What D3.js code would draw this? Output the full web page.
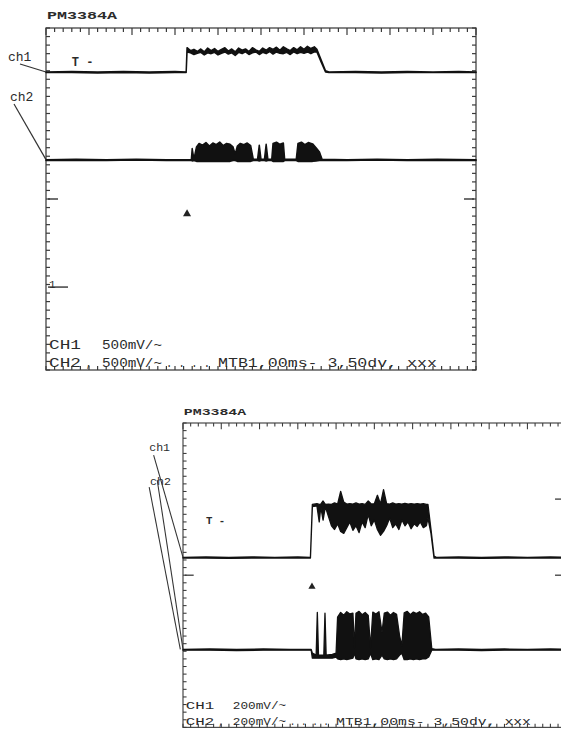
<!DOCTYPE html>
<html lang="en">
<head>
<meta charset="UTF-8">
<title>PM3384A traces</title>
<script src="https://d3js.org/d3.v7.min.js"></script>
<style>
  html, body { margin: 0; padding: 0; background: #fff; overflow: hidden; }
  svg { display: block; }
  text { font-family: "Liberation Mono", "DejaVu Sans Mono", monospace; fill: #2b2b2b; }
</style>
</head>
<body>
<svg id="scope" width="561" height="729"></svg>
<script>
// values are in screen divisions: 10 across, 8 up, 0 = centre line
// each trace point is [time, upper, lower] so noisy bursts can be filled

// top screenshot (500mV/div)
const topCh1 = [
  [0.00,2.97,2.96],[0.60,2.98,2.96],[1.20,2.97,2.95],[1.80,2.98,2.96],[2.40,2.97,2.95],[3.00,2.98,2.96],[3.26,2.97,2.96],
  [3.28,3.54,3.44],[3.36,3.47,3.42],[3.44,3.50,3.38],[3.52,3.45,3.41],[3.60,3.51,3.43],[3.68,3.44,3.37],[3.76,3.53,3.42],
  [3.84,3.47,3.40],[3.92,3.52,3.43],[4.00,3.45,3.37],[4.08,3.50,3.41],[4.16,3.54,3.44],[4.24,3.46,3.39],[4.32,3.51,3.42],
  [4.40,3.44,3.36],[4.48,3.53,3.43],[4.56,3.48,3.40],[4.64,3.51,3.44],[4.72,3.45,3.38],[4.80,3.54,3.42],[4.88,3.49,3.44],
  [4.96,3.45,3.38],[5.04,3.53,3.43],[5.12,3.48,3.40],[5.20,3.54,3.45],[5.28,3.50,3.39],[5.36,3.55,3.44],[5.44,3.48,3.41],
  [5.52,3.56,3.40],[5.60,3.51,3.43],[5.68,3.47,3.38],[5.76,3.54,3.44],[5.84,3.49,3.40],[5.92,3.56,3.43],[6.00,3.50,3.41],
  [6.08,3.57,3.44],[6.16,3.52,3.40],[6.24,3.56,3.44],[6.30,3.50,3.44],
  [6.40,3.25,3.20],[6.50,3.00,2.97],[6.58,2.97,2.96],[7.20,2.98,2.96],[7.80,2.97,2.95],[8.40,2.98,2.96],[9.00,2.97,2.96],
  [9.60,2.98,2.96],[10.00,2.97,2.96]
];
const topCh2 = [
  [0.00,0.92,0.90],[0.70,0.93,0.90],[1.40,0.92,0.90],[2.10,0.93,0.91],[2.80,0.92,0.90],[3.38,0.92,0.90],
  [3.40,1.18,0.89],[3.44,0.93,0.90],[3.50,1.22,0.88],[3.56,1.30,0.88],[3.64,1.26,0.88],[3.72,1.32,0.88],[3.80,1.24,0.88],
  [3.88,1.31,0.88],[3.96,1.27,0.88],[4.04,1.33,0.88],[4.12,1.25,0.88],[4.20,1.30,0.88],[4.28,1.28,0.88],[4.35,1.22,0.90],
  [4.40,1.05,0.90],[4.45,1.24,0.88],[4.52,1.30,0.88],[4.60,1.27,0.88],[4.68,1.31,0.88],[4.76,1.25,0.88],[4.82,0.93,0.90],
  [4.92,0.93,0.90],[4.96,1.26,0.89],[5.00,0.93,0.90],[5.08,0.93,0.90],[5.12,1.28,0.89],[5.16,0.93,0.90],[5.25,0.93,0.90],
  [5.28,1.30,0.88],[5.36,1.33,0.88],[5.44,1.28,0.88],[5.52,1.31,0.88],[5.55,0.93,0.90],[5.82,0.93,0.90],[5.86,1.30,0.88],
  [5.94,1.33,0.88],[6.02,1.27,0.88],[6.10,1.32,0.88],[6.20,1.29,0.88],[6.28,1.20,0.89],[6.36,1.10,0.90],[6.42,0.93,0.90],
  [7.00,0.92,0.90],[7.70,0.93,0.91],[8.40,0.92,0.90],[9.10,0.93,0.90],[10.00,0.92,0.90]
];

// bottom screenshot (200mV/div)
const botCh1 = [
  [0.00,0.47,0.45],[0.60,0.48,0.45],[1.20,0.47,0.44],[1.80,0.48,0.45],[2.40,0.47,0.45],[3.00,0.48,0.45],[3.33,0.47,0.45],
  [3.38,1.86,1.80],[3.50,1.88,1.82],[3.56,1.86,1.40],[3.60,1.87,1.80],[3.66,1.95,1.45],[3.72,1.86,1.80],[3.80,1.87,1.55],
  [3.88,1.86,1.30],[3.96,1.90,1.20],[4.04,1.87,1.35],[4.12,2.20,1.15],[4.20,1.92,1.10],[4.28,1.87,1.25],[4.36,1.88,1.40],
  [4.44,1.87,1.18],[4.52,1.90,1.30],[4.60,1.87,1.12],[4.68,1.88,1.40],[4.76,1.86,1.25],[4.84,1.95,1.60],[4.92,1.87,1.30],
  [5.00,1.88,1.45],[5.08,2.10,1.20],[5.16,1.87,1.05],[5.24,2.25,1.15],[5.32,1.88,1.30],[5.40,1.87,1.50],[5.48,1.90,1.25],
  [5.56,1.87,1.35],[5.64,1.88,1.20],[5.72,1.87,1.45],[5.80,1.89,1.30],[5.88,1.87,1.40],[5.96,1.88,1.22],[6.04,1.87,1.35],
  [6.12,1.88,1.28],[6.20,1.87,1.40],[6.28,1.88,1.25],[6.36,1.86,1.30],[6.40,1.86,1.50],
  [6.48,1.20,1.10],[6.56,0.50,0.45],[6.62,0.47,0.45],[7.20,0.48,0.45],[7.80,0.47,0.44],[8.40,0.48,0.45],[9.00,0.47,0.45],
  [9.60,0.48,0.45],[10.00,0.47,0.45]
];
const botCh2 = [
  [0.00,-1.95,-1.97],[0.70,-1.94,-1.97],[1.40,-1.95,-1.98],[2.10,-1.94,-1.97],[2.80,-1.95,-1.97],[3.35,-1.95,-1.97],
  [3.38,-2.05,-2.18],[3.48,-2.10,-2.18],[3.51,-0.98,-2.18],[3.54,-2.10,-2.18],[3.68,-2.10,-2.18],[3.71,-1.00,-2.18],
  [3.74,-2.10,-2.18],[3.90,-2.08,-2.18],[4.00,-2.05,-2.15],
  [4.04,-1.10,-2.20],[4.12,-0.98,-2.22],[4.20,-1.05,-2.20],[4.28,-0.96,-2.22],[4.36,-1.02,-2.20],[4.44,-1.00,-2.18],
  [4.48,-1.90,-2.05],[4.52,-1.00,-2.20],[4.60,-0.95,-2.22],[4.68,-1.04,-2.20],[4.76,-0.98,-2.22],[4.84,-1.06,-2.20],
  [4.90,-1.90,-2.05],[4.96,-0.97,-2.22],[5.04,-1.02,-2.20],[5.12,-0.96,-2.22],[5.20,-1.50,-2.10],[5.26,-1.00,-2.20],
  [5.34,-0.97,-2.22],[5.42,-1.05,-2.20],[5.50,-0.98,-2.22],[5.58,-1.03,-2.20],[5.66,-1.60,-2.10],[5.72,-1.85,-2.05],
  [5.78,-0.99,-2.22],[5.86,-0.95,-2.22],[5.94,-1.04,-2.20],[6.02,-0.97,-2.22],[6.10,-1.01,-2.20],[6.18,-0.96,-2.22],
  [6.26,-1.03,-2.20],[6.34,-1.00,-2.20],[6.42,-1.10,-2.15],
  [6.50,-1.93,-1.97],[6.60,-1.95,-1.97],[7.20,-1.94,-1.97],[7.80,-1.95,-1.98],[8.40,-1.94,-1.97],[9.00,-1.95,-1.97],
  [9.60,-1.94,-1.97],[10.00,-1.95,-1.97]
];

// readouts and markers, [top, bottom]
const titles = ["PM3384A", "PM3384A"];
const voltsPerDiv = ["500mV/~", "200mV/~"];
const timebase = "MTB1,00ms- 3,50dv, xxx";
const trigLevel = [3.2, 1.45];        // "T -" marker
const trigTime = [3.28, 3.37];        // small triangle
const trigMarkY = [-0.35, -0.3];
const leftMarks = [[0, -2.06], [0]];  // ground dashes on left edge
const rightMarks = [[0], [2, 0]];

const svg = d3.select("#scope");
const W = 430, H = 342;

function drawPanel(i, ox, oy, k, ch1, ch2, lab) {
    const g = svg.append("g").attr("transform", `translate(${ox},${oy}) scale(${k})`);
    const x = d3.scaleLinear().domain([0, 10]).range([0, W]);
    const y = d3.scaleLinear().domain([4, -4]).range([0, H]);

    // frame
    g.append("rect").attr("width", W).attr("height", H)
        .attr("fill", "none").attr("stroke", "#444").attr("stroke-width", 1.3);

    // graticule ticks along the edges, 5 per division, longer on whole divisions
    const tx = x.ticks(50), ty = y.ticks(40);
    const tl = d => (Math.abs(d - Math.round(d)) < 1e-6 ? 7 : 4);
    const ticks = g.append("g").attr("stroke", "#3a3a3a").attr("stroke-width", 1.2);
    ticks.selectAll(".tt").data(tx).join("line").attr("class", "tt")
        .attr("x1", d => x(d)).attr("x2", d => x(d)).attr("y1", 0).attr("y2", d => tl(d));
    ticks.selectAll(".tb").data(tx).join("line").attr("class", "tb")
        .attr("x1", d => x(d)).attr("x2", d => x(d)).attr("y1", H).attr("y2", H - 4);
    ticks.selectAll(".tlft").data(ty).join("line").attr("class", "tlft")
        .attr("y1", d => y(d)).attr("y2", d => y(d)).attr("x1", 0).attr("x2", 4);
    ticks.selectAll(".trgt").data(ty).join("line").attr("class", "trgt")
        .attr("y1", d => y(d)).attr("y2", d => y(d)).attr("x1", W).attr("x2", W - 4);

    // traces
    const area = d3.area().x(d => x(d[0])).y0(d => y(d[2])).y1(d => y(d[1]));
    [ch1, ch2].forEach(tr => {
        g.append("path").datum(tr).attr("d", area)
            .attr("fill", "#111").attr("stroke", "#111")
            .attr("stroke-width", 1.5).attr("stroke-linejoin", "round");
    });

    // trigger markers
    g.append("text").attr("x", x(0.6)).attr("y", y(trigLevel[i]) + 4)
        .attr("font-size", 12).attr("font-weight", "bold").text("T -");
    g.append("path").attr("d", d3.symbol(d3.symbolTriangle, 28)())
        .attr("transform", `translate(${x(trigTime[i])},${y(trigMarkY[i])})`).attr("fill", "#222");

    leftMarks[i].forEach((v, j) => {
        g.append("line").attr("x1", 2).attr("x2", j ? 22 : 12).attr("y1", y(v)).attr("y2", y(v))
            .attr("stroke", "#333").attr("stroke-width", 1.4);
        if (j) g.append("text").attr("x", 3).attr("y", y(v) + 1).attr("font-size", 11).text("1");
    });
    rightMarks[i].forEach(v => {
        g.append("line").attr("x1", W - 12).attr("x2", W - 2).attr("y1", y(v)).attr("y2", y(v))
            .attr("stroke", "#333").attr("stroke-width", 1.4);
    });

    // channel labels with leader lines to each trace start
    g.append("text").attr("x", lab.c1[0]).attr("y", lab.c1[1]).attr("font-size", 13).text("ch1");
    g.append("text").attr("x", lab.c2[0]).attr("y", lab.c2[1]).attr("font-size", 13).text("ch2");
    const lead = (from, v, dx) => g.append("line")
        .attr("x1", from[0]).attr("y1", from[1]).attr("x2", dx).attr("y2", y(v))
        .attr("stroke", "#333").attr("stroke-width", 1.2);
    lead(lab.l1, ch1[0][1], 0);
    lab.l2.forEach((p, j) => lead(p, ch2[0][1], j ? -3 : 0));

    // readouts
    g.append("text").attr("x", 1).attr("y", -9).attr("font-size", 11).attr("font-weight", "bold")
        .attr("textLength", 70).attr("lengthAdjust", "spacingAndGlyphs").text(titles[i]);
    const row = (txt, tx, ty, len) => g.append("text").attr("x", tx).attr("y", ty)
        .attr("font-size", 12).attr("textLength", len).attr("lengthAdjust", "spacingAndGlyphs").text(txt);
    row("CH1", 3, 321, 32);
    row(voltsPerDiv[i], 56, 321, 60);
    row("CH2", 3, 339, 32);
    row(",", 40, 339, 6);
    row(voltsPerDiv[i], 56, 339, 60);
    row(". . . .", 120, 339, 44);
    row(timebase, 172, 339, 219);
}

drawPanel(0, 46, 28, 1, topCh1, topCh2,
    {c1: [-38, 33], c2: [-36, 73], l1: [-26, 36], l2: [[-32, 76]]});
drawPanel(1, 183, 423, 0.89, botCh1, botCh2,
    {c1: [-38, 31], c2: [-37, 70], l1: [-33, 36], l2: [[-29, 64], [-38, 72]]});
</script>
</body>
</html>
